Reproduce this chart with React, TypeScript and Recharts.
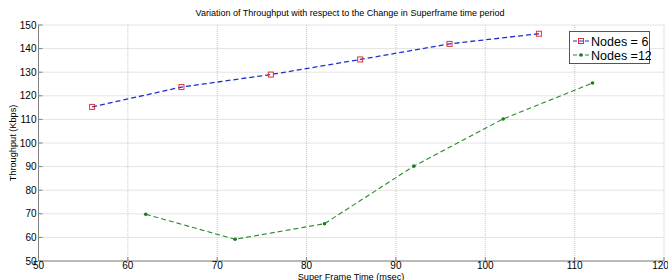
import React from 'react';
import { LineChart, Line, XAxis, YAxis, CartesianGrid } from 'recharts';

const nodes6X = [56, 66, 76, 86, 96, 106];
const nodes6Y = [115.3, 123.7, 129, 135.4, 142, 146.3];
const nodes12X = [62, 72, 82, 92, 102, 112];
const nodes12Y = [69.8, 59.2, 65.8, 90.2, 110.2, 125.4];
const xTicks = [50, 60, 70, 80, 90, 100, 110, 120];
const yTicks = [50, 60, 70, 80, 90, 100, 110, 120, 130, 140, 150];

const data6 = nodes6X.map((x, i) => ({ x, y: nodes6Y[i] }));
const data12 = nodes12X.map((x, i) => ({ x, y: nodes12Y[i] }));

const font = 'Liberation Sans, Arial, sans-serif';
const axisColor = '#808080';

const SquareDot = (props: any) => {
  const { cx, cy } = props;
  if (cx == null || cy == null) return null;
  return <rect x={cx - 2.5} y={cy - 2.5} width={5} height={5} fill="none" stroke="#e0303a" strokeWidth={1} />;
};

const StarDot = (props: any) => {
  const { cx, cy } = props;
  if (cx == null || cy == null) return null;
  return <circle cx={cx} cy={cy} r={1.8} fill="#1e7a1e" />;
};

const LegendBox = () => (
  <svg width={82} height={34} style={{ display: 'block' }}>
    <rect x={0.5} y={0.5} width={80} height={32} fill="#fff" stroke="#555" />
    <line x1={4} y1={10} x2={20} y2={10} stroke="#1f2fd0" strokeDasharray="4 2" />
    <rect x={9.5} y={7.5} width={5} height={5} fill="none" stroke="#e0303a" />
    <text x={22} y={15} fontSize={12.5} fontFamily={font} fill="#000">Nodes = 6</text>
    <line x1={4} y1={24} x2={20} y2={24} stroke="#2a8a2a" strokeDasharray="4 2" />
    <circle cx={12} cy={24} r={1.8} fill="#1e7a1e" />
    <text x={22} y={29} fontSize={12.5} fontFamily={font} fill="#000">Nodes =12</text>
  </svg>
);

export default function App() {
  return (
    <div style={{ position: 'absolute', left: 0, top: 0, width: 668, height: 280, background: '#fff', overflow: 'hidden' }}>
      <LineChart width={668} height={280} margin={{ top: 25, right: 4, left: 0, bottom: 0 }}>
        <CartesianGrid stroke="#c8c8c8" strokeDasharray="1 1" />
        <XAxis
          type="number"
          dataKey="x"
          domain={[50, 120]}
          ticks={xTicks}
          allowDataOverflow
          stroke={axisColor}
          tickSize={-4}
          tickMargin={5}
          tick={{ fontSize: 10, fill: '#000', fontFamily: font }}
          height={19}
        />
        <XAxis xAxisId="top" orientation="top" type="number" domain={[50, 120]} ticks={xTicks} stroke={axisColor} tickSize={-4} tick={false} height={0} />
        <YAxis
          type="number"
          domain={[50, 150]}
          ticks={yTicks}
          stroke={axisColor}
          tickSize={-4}
          tickMargin={6}
          width={38.5}
          tick={{ fontSize: 10, fill: '#000', fontFamily: font }}
        />
        <YAxis yAxisId="right" orientation="right" type="number" domain={[50, 150]} ticks={yTicks} stroke={axisColor} tickSize={-4} tick={false} width={0} />
        <Line
          data={data6}
          dataKey="y"
          name="Nodes = 6"
          stroke="#1f2fd0"
          strokeWidth={1.3}
          strokeDasharray="5 3"
          dot={<SquareDot />}
          isAnimationActive={false}
        />
        <Line
          data={data12}
          dataKey="y"
          name="Nodes =12"
          stroke="#2a8a2a"
          strokeWidth={1.1}
          strokeDasharray="5 3"
          dot={<StarDot />}
          isAnimationActive={false}
        />
        <text x={350} y={16} textAnchor="middle" fontSize={9} fontFamily={font} fill="#000">
          Variation of Throughput with respect to the Change in Superframe time period
        </text>
        <text x={351} y={280} textAnchor="middle" fontSize={9.2} fontFamily={font} fill="#000">
          Super Frame Time (msec)
        </text>
        <text x={16} y={143} textAnchor="middle" fontSize={9.2} fontFamily={font} fill="#000" transform="rotate(-90 16 143)">
          Throughput (Kbps)
        </text>
      </LineChart>
      <div style={{ position: 'absolute', left: 569, top: 31 }}>
        <LegendBox />
      </div>
    </div>
  );
}
